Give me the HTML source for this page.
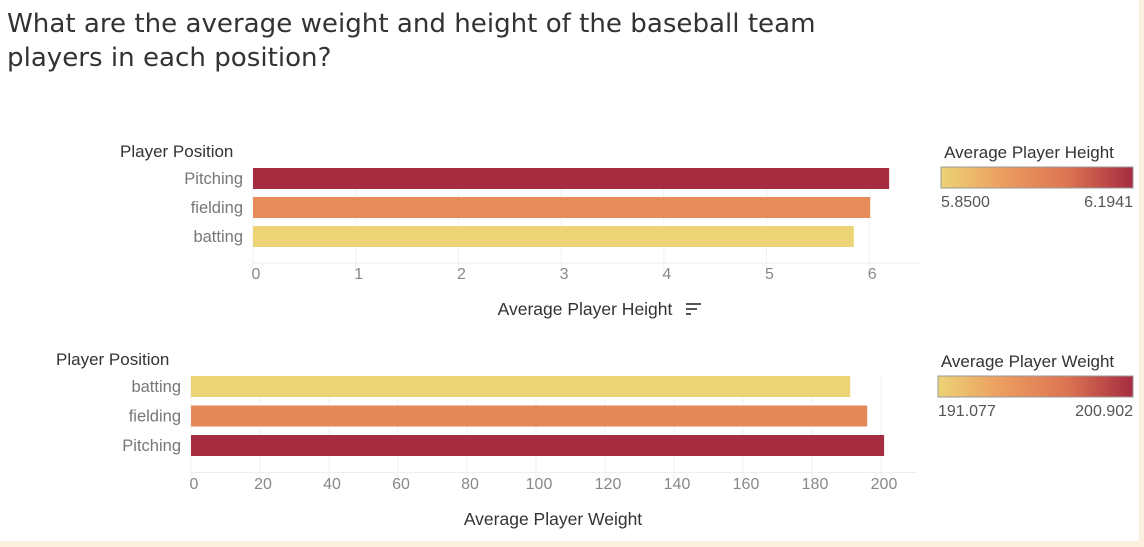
<!DOCTYPE html>
<html><head><meta charset="utf-8"><style>
body{margin:0;width:1144px;height:547px;background:#fcf1df;overflow:hidden;font-family:"Liberation Sans",sans-serif}
#card{position:absolute;left:0;top:0;width:1139px;height:541px;background:#fff}
h1{position:absolute;left:7px;top:7px;margin:0;font-weight:normal;font-family:"DejaVu Sans",sans-serif;font-size:26.1px;line-height:34px;color:#333}
</style></head><body>
<div id="card">
<h1>What are the average weight and height of the baseball team<br>players in each position?</h1>
<svg id="svg" width="1144" height="547" style="position:absolute;left:0;top:0"></svg>
</div>
<script>
const hCats=["Pitching","fielding","batting"];
const hVals=[6.1941,6.01,5.85];
const hTicks=[0,1,2,3,4,5,6];
const wCats=["batting","fielding","Pitching"];
const wVals=[191.077,196.0,200.902];
const wTicks=[0,20,40,60,80,100,120,140,160,180,200];
const hLegend=[5.85,6.1941];
const wLegend=[191.077,200.902];
const NS="http://www.w3.org/2000/svg";
const svg=document.getElementById('svg');
function mk(t,a,txt){const e=document.createElementNS(NS,t);for(const k in a)e.setAttribute(k,a[k]);if(txt!==undefined)e.textContent=txt;svg.appendChild(e);return e;}
function lerp(a,b,t){return Math.round(a+(b-a)*t);}
function col(t){const s=[[236,211,117],[236,155,96],[220,115,82],[166,44,64]];t=Math.max(0,Math.min(1,t));const p=t*3,i=Math.min(2,Math.floor(p)),f=p-i;return `rgb(${lerp(s[i][0],s[i+1][0],f)},${lerp(s[i][1],s[i+1][1],f)},${lerp(s[i][2],s[i+1][2],f)})`;}
function chart(o){
  const x=v=>o.x0+v*o.scale;
  const hdr=mk('text',{x:o.hx,y:o.hy,'font-size':17,fill:'#333'},'Player Position');
  
  
  o.ticks.forEach(t=>{
    const g=mk('line',{x1:x(t),x2:x(t),y1:o.top,y2:o.top+3*o.step+16,stroke:'#f0f0f0'});
    
    
    const l=mk('text',{x:x(t)+3,y:o.tickY,'font-size':16,fill:'#888','text-anchor':'middle'},t);
    
    
  });
  const base=mk('line',{x1:o.x0,x2:o.x0+o.axisW,y1:o.top+3*o.step+8,y2:o.top+3*o.step+8,stroke:'#eee'});
  
  
  o.cats.forEach((c,i)=>{
    const y=o.top+i*o.step;
    const t=(o.vals[i]-o.lmin)/(o.lmax-o.lmin);
    const r=mk('rect',{x:x(0),y:y,width:x(o.vals[i])-x(0),height:21,fill:col(t)});
    
    
    const l=mk('text',{x:o.x0-10,y:y+16,'font-size':16.5,fill:'#777','text-anchor':'end'},c);
    
    
  });
  const tt=mk('text',{x:o.titleX,y:o.titleY,'font-size':17.5,fill:'#333','text-anchor':'middle'},o.title);
  
  
}
chart({cats:hCats,vals:hVals,ticks:hTicks,x0:253,scale:102.7,axisW:667,top:168,step:29,tickY:279,hx:120,hy:157,titleX:585,titleY:315,title:'Average Player Height',lmin:hLegend[0],lmax:hLegend[1]});
const si=mk('path',{d:'M686 304h15M686 309h11M686 314h5',stroke:'#555','stroke-width':2});


chart({cats:wCats,vals:wVals,ticks:wTicks,x0:191,scale:3.45,axisW:725,top:376,step:29.5,tickY:489,hx:56,hy:365,titleX:553,titleY:525,title:'Average Player Weight',lmin:wLegend[0],lmax:wLegend[1]});
const defs=mk('defs',{});
const lg=document.createElementNS(NS,'linearGradient');lg.setAttribute('id','grad');
[0,0.33,0.66,1].forEach(p=>{const s=document.createElementNS(NS,'stop');s.setAttribute('offset',p);s.setAttribute('stop-color',col(p));lg.appendChild(s);});
defs.appendChild(lg);
function legend(x,y,w,title,vals,name){
  const t=mk('text',{x:x+w/2-8,y:y-9,'font-size':17,fill:'#333','text-anchor':'middle'},title);
  
  
  const r=mk('rect',{x:x,y:y,width:w,height:21,fill:'url(#grad)',stroke:'#999'});
  
  
  const a=mk('text',{x:x,y:y+40,'font-size':16,fill:'#555'},vals[0]);
  
  
  const b=mk('text',{x:x+w,y:y+40,'font-size':16,fill:'#555','text-anchor':'end'},vals[1]);
  
  
}
legend(941,167,192,'Average Player Height',[hLegend[0].toFixed(4),hLegend[1].toFixed(4)],'height-legend');
legend(938,376,195,'Average Player Weight',[wLegend[0].toFixed(3),wLegend[1].toFixed(3)],'weight-legend');
</script>
</body></html>
